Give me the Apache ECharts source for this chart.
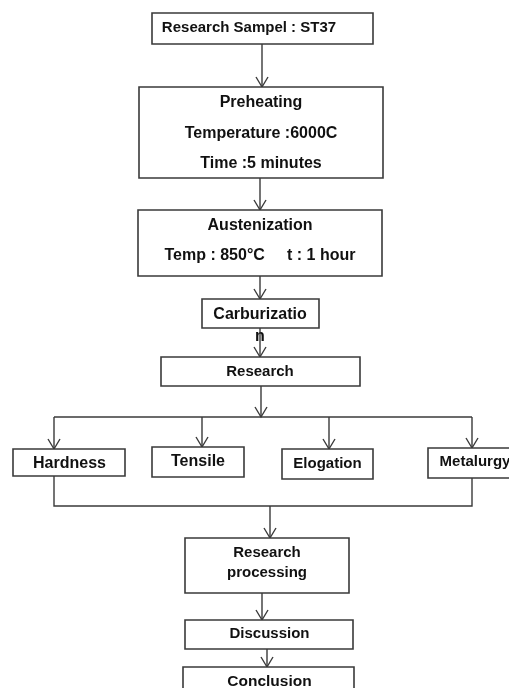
<!DOCTYPE html>
<html>
<head>
<meta charset="utf-8">
<script src="https://cdn.jsdelivr.net/npm/echarts@6/dist/echarts.min.js"></script>
<style>
  html, body { margin: 0; padding: 0; background: #fff; }
  #main { width: 509px; height: 688px; }
</style>
</head>
<body>
<div id="main"></div>
<script>
// step labels of the flowchart
var nodeNames = [
    'Research Sampel : ST37',
    'Preheating\nTemperature :6000C\nTime :5 minutes',
    'Austenization\nTemp : 850°C     t : 1 hour',
    'Carburizatio\nn',
    'Research',
    'Hardness',
    'Tensile',
    'Elogation',
    'Metalurgy',
    'Research\nprocessing',
    'Discussion',
    'Conclusion'
];

// layout: box [x0, y0, x1, y1] and text centre [cx, cy, fontSize, lineHeight]
var nodeBoxes = [
    [152, 13, 373, 44],
    [139, 87, 383, 178],
    [138, 210, 382, 276],
    [202, 299, 319, 328],
    [161, 357, 360, 386],
    [13, 449, 125, 476],
    [152, 447, 244, 477],
    [282, 449, 373, 479],
    [428, 448, 515, 478],
    [185, 538, 349, 593],
    [185, 620, 353, 649],
    [183, 667, 354, 700]
];
var nodeText = [
    [249, 28, 15, 18],
    [261, 133.5, 16, 30.5],
    [260, 241, 16, 30],
    [260, 326, 16, 22],
    [260, 372, 15, 18],
    [69.5, 464, 16, 18],
    [198, 462, 16, 18],
    [327.5, 464, 15, 18],
    [475, 462, 15, 18],
    [267, 563, 15, 20],
    [269.5, 634, 15, 18],
    [269.5, 682, 15.5, 18]
];

// connectors: polylines, last flag = arrow at the end
var links = [
    [[[262, 44], [262, 87]], true],
    [[[260, 178], [260, 210]], true],
    [[[260, 276], [260, 299]], true],
    [[[260, 328], [260, 357]], true],
    [[[261, 386], [261, 417]], true],
    [[[54, 417], [472, 417]], false],
    [[[54, 417], [54, 449]], true],
    [[[202, 417], [202, 447]], true],
    [[[329, 417], [329, 449]], true],
    [[[472, 417], [472, 448]], true],
    [[[54, 476], [54, 506], [472, 506], [472, 478]], false],
    [[[270, 506], [270, 538]], true],
    [[[262, 593], [262, 620]], true],
    [[[267, 649], [267, 667]], true]
];

var lineColor = '#3a3a3a';

var myChart = echarts.init(document.getElementById('main'));

myChart.setOption({
    backgroundColor: '#fff',
    animation: false,
    grid: { left: 0, right: 0, top: 0, bottom: 0 },
    xAxis: { type: 'value', min: 0, max: 509, show: false },
    yAxis: { type: 'value', min: 0, max: 688, inverse: true, show: false },
    series: [{
        type: 'custom',
        clip: false,
        data: links.map(function (l, i) { return [i]; }),
        renderItem: function (params, api) {
            var l = links[api.value(0)];
            var pts = l[0].map(function (p) { return api.coord(p); });
            var children = [{
                type: 'polyline',
                shape: { points: pts },
                style: { stroke: lineColor, lineWidth: 1.4, fill: null }
            }];
            if (l[1]) {
                var a = pts[pts.length - 2], b = pts[pts.length - 1];
                var dx = b[0] - a[0], dy = b[1] - a[1];
                var len = Math.sqrt(dx * dx + dy * dy);
                var ux = dx / len, uy = dy / len;
                var h = 10, w = 6;
                children.push({
                    type: 'polyline',
                    shape: { points: [
                        [b[0] - ux * h - uy * w, b[1] - uy * h + ux * w],
                        b,
                        [b[0] - ux * h + uy * w, b[1] - uy * h - ux * w]
                    ] },
                    style: { stroke: lineColor, lineWidth: 1.4, fill: null }
                });
            }
            return { type: 'group', children: children };
        }
    }, {
        type: 'custom',
        clip: false,
        z: 3,
        data: nodeNames.map(function (n, i) { return [i]; }),
        renderItem: function (params, api) {
            var i = api.value(0);
            var b = nodeBoxes[i], t = nodeText[i];
            var p0 = api.coord([b[0], b[1]]);
            var p1 = api.coord([b[2], b[3]]);
            var c = api.coord([t[0], t[1]]);
            return {
                type: 'group',
                children: [{
                    type: 'rect',
                    shape: { x: p0[0], y: p0[1], width: p1[0] - p0[0], height: p1[1] - p0[1] },
                    style: { fill: '#fff', stroke: lineColor, lineWidth: 1.6 }
                }, {
                    type: 'text',
                    x: c[0],
                    y: c[1],
                    style: {
                        text: nodeNames[i],
                        fill: '#111',
                        font: 'bold ' + t[2] + 'px "Liberation Sans", Arial, sans-serif',
                        align: 'center',
                        verticalAlign: 'middle',
                        lineHeight: t[3]
                    }
                }]
            };
        }
    }]
});
</script>
</body>
</html>
